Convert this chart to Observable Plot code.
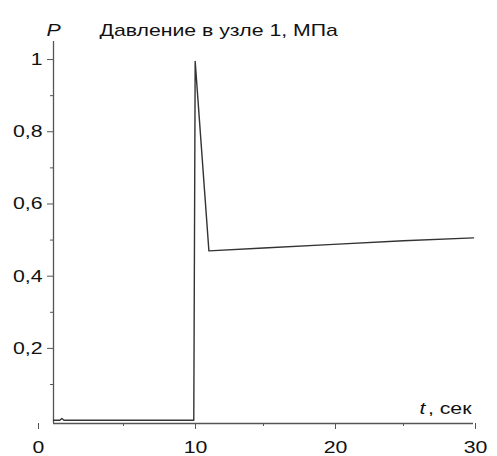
<!DOCTYPE html>
<html><head><meta charset="utf-8">
<script src="https://cdn.jsdelivr.net/npm/d3@7"></script>
<script src="https://cdn.jsdelivr.net/npm/@observablehq/plot@0.6"></script>
<style>body{margin:0;background:#fff}</style>
</head><body><div id="chart"></div>
<script>
const tValues = [0, 0.45, 0.6, 0.75, 9.98, 10.02, 10.12, 11.1, 15, 20, 25, 30];
const pValues = [0.001, 0.001, 0.006, 0.001, 0.001, 0.001, 0.995, 0.47, 0.478, 0.488, 0.498, 0.506];
const xMajor = [10, 20, 30];
const xMinor = [5, 15, 25];
const yMajor = [0.2, 0.4, 0.6, 0.8, 1];
const yMinor = [0.1, 0.3, 0.5, 0.7, 0.9];
const title = "Давление в узле 1, МПа";
const yLabel = "P";
const xLabelVar = "t";
const xLabelUnit = ", сек";

const data = tValues.map((t, i) => ({t, p: pValues[i]}));
const fmt = d => String(d).replace(".", ",");
const font = "Liberation Sans, Arial, Helvetica, sans-serif";
const axisColor = "#555";

const chart = Plot.plot({
  width: 497, height: 456,
  marginLeft: 53, marginRight: 24, marginTop: 41, marginBottom: 33,
  style: {fontFamily: font, fontSize: "17px", color: "#111", background: "#fff"},
  x: {domain: [0, 30]},
  y: {domain: [-0.008, 1.05]},
  marks: [
    Plot.ruleX([0], {stroke: axisColor, strokeWidth: 1.3}),
    Plot.ruleY([-0.008], {stroke: axisColor, strokeWidth: 1.3}),
    Plot.axisX(xMajor, {tickSize: 6, tickPadding: 11, dx: 2, stroke: axisColor, tickFormat: fmt, fill: "#111", label: null}),
    Plot.axisX([0], {tickSize: 6, tickPadding: 11, dx: -15, stroke: axisColor, tickFormat: fmt, fill: "#111", label: null}),
    Plot.axisX(xMinor, {tickSize: 3, stroke: axisColor, tickFormat: () => "", label: null}),
    Plot.axisY(yMajor, {tickSize: 6, tickPadding: 5, stroke: axisColor, tickFormat: fmt, fill: "#111", label: null}),
    Plot.axisY(yMinor, {tickSize: 3, stroke: axisColor, tickFormat: () => "", label: null}),
    Plot.line(data, {x: "t", y: "p", stroke: "#333", strokeWidth: 1.4}),
    Plot.text([title], {frameAnchor: "top-left", dx: 46, dy: -18, textAnchor: "start", fontSize: 17, fill: "#111"}),
    Plot.text([yLabel], {frameAnchor: "top-left", dx: -7, dy: -18, fontSize: 17, fontStyle: "italic", fill: "#111"}),
    Plot.text([xLabelUnit], {frameAnchor: "bottom-right", dx: -2, dy: -10, textAnchor: "end", fontSize: 17, fill: "#111"}),
    Plot.text([xLabelVar], {frameAnchor: "bottom-right", dx: -48, dy: -10, textAnchor: "end", fontSize: 17, fontStyle: "italic", fill: "#111"})
  ]
});
document.getElementById("chart").appendChild(chart);
// the reference type is horizontally wider than Helvetica/Arial: stretch glyphs
d3.select(chart).selectAll("text").each(function() {
  const L = this.getComputedTextLength();
  if (L > 0) {
    this.setAttribute("textLength", (L * 1.25).toFixed(1));
    this.setAttribute("lengthAdjust", "spacingAndGlyphs");
  }
});
</script>
</body></html>
